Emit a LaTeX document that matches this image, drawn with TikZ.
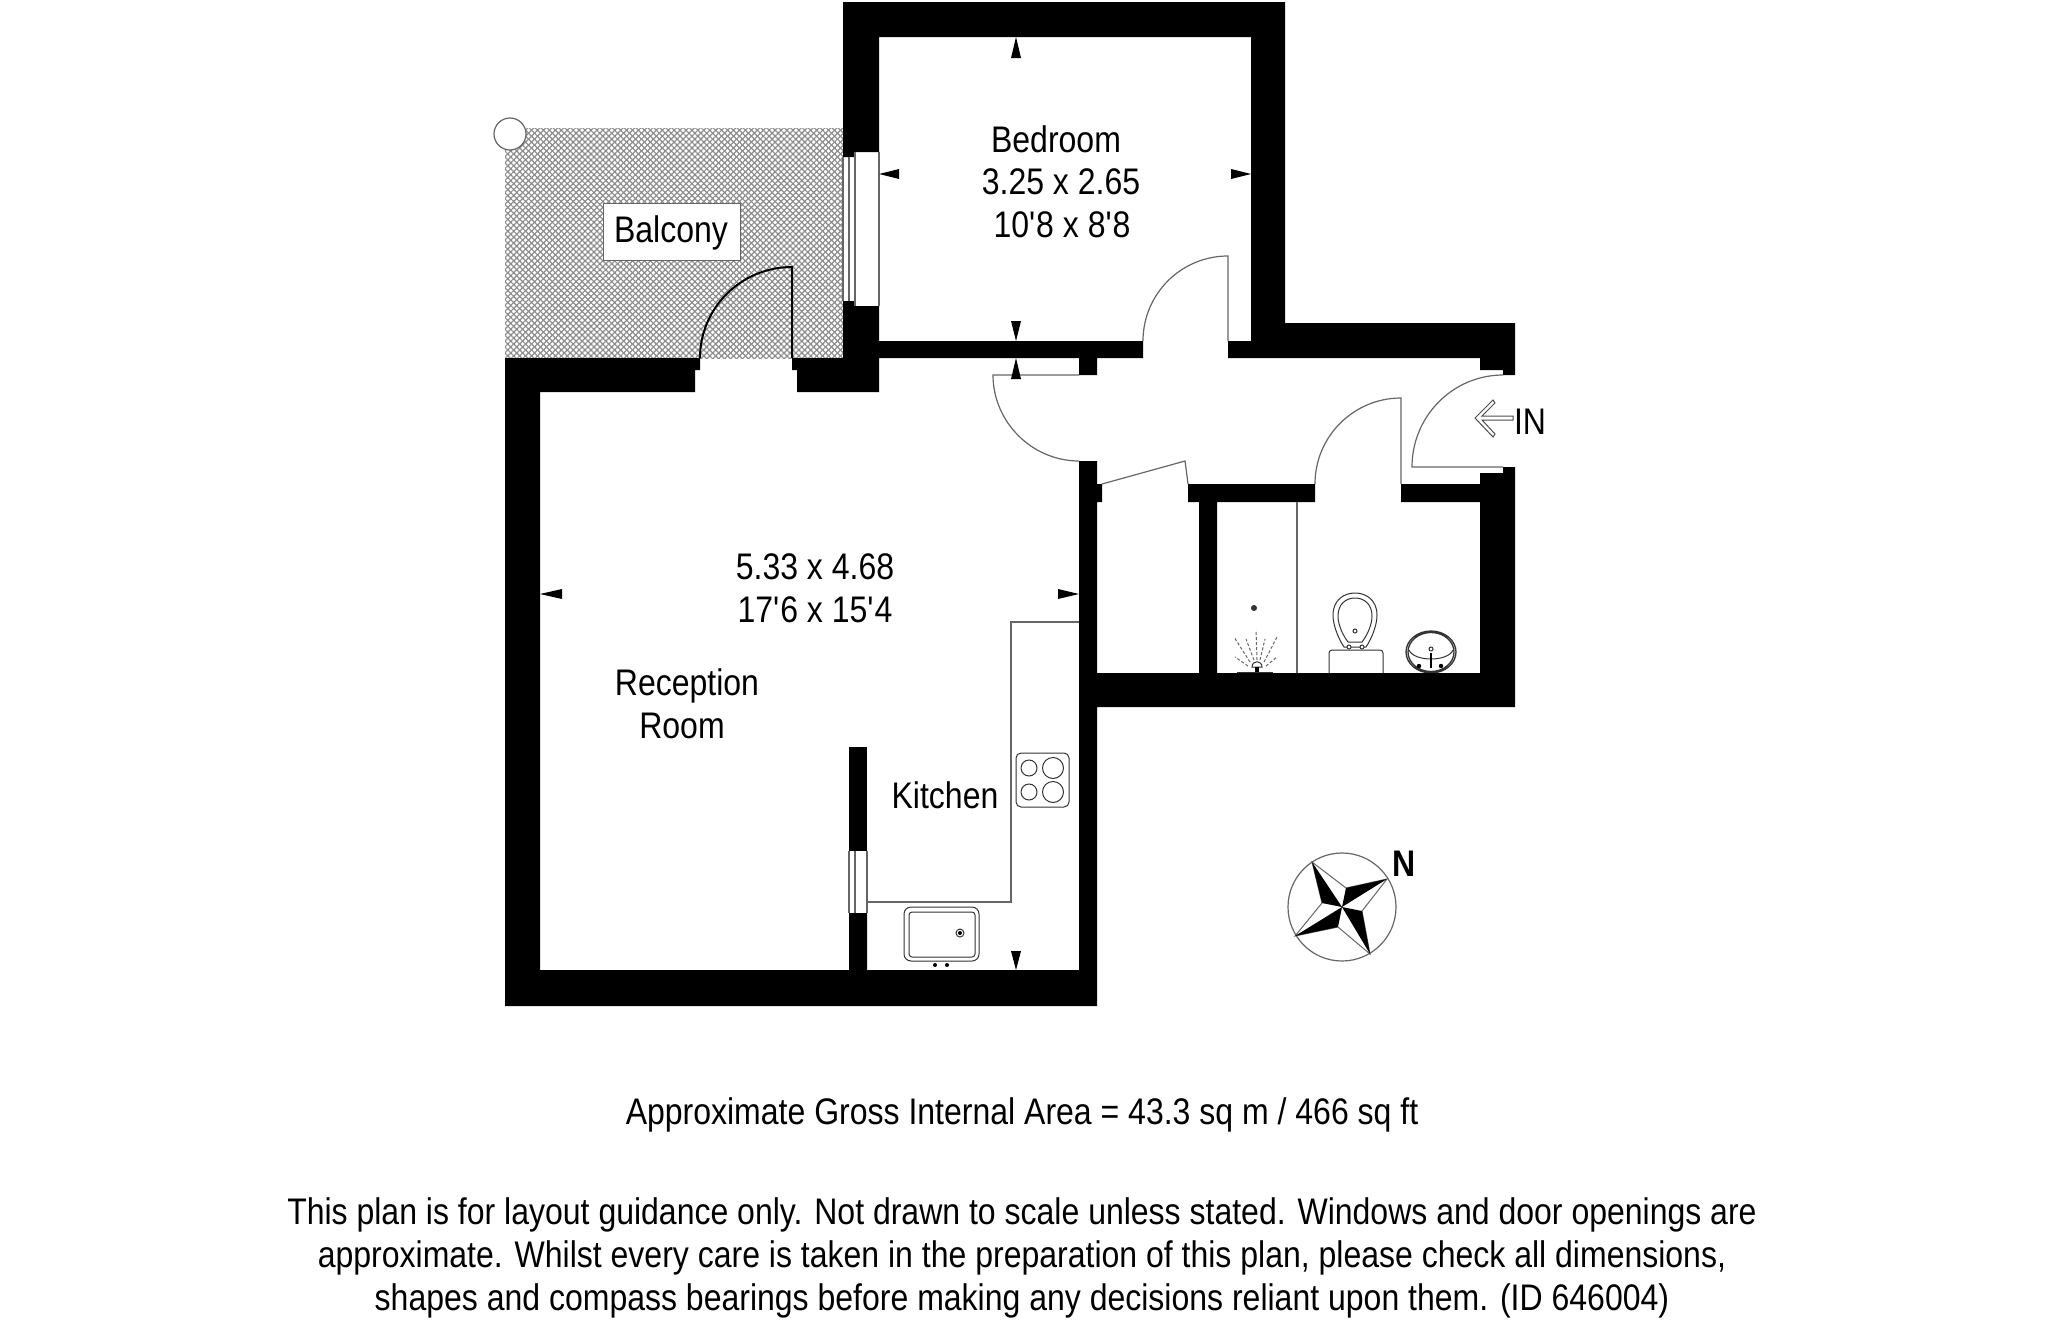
\documentclass[tikz,border=0pt]{standalone}
\usepackage{fontspec}
\setmainfont[FakeStretch=0.865]{Liberation Sans}
\usetikzlibrary{patterns.meta}
\tikzset{
	wall/.style={fill=black},
	thinline/.style={draw=black!60, line width=1.2pt},
	fixture/.style={draw=black!80, line width=1pt},
	dimtip/.style={fill=black},
	roomlabel/.style={font=\fontsize{37}{43}\selectfont, align=center, inner sep=0pt},
	notelabel/.style={font=\fontsize{37}{43}\selectfont, align=center, inner sep=0pt}
}
\begin{document}
\begin{tikzpicture}[x=1pt,y=1pt,yscale=-1,xscale=1]
\useasboundingbox (0,0) rectangle (2048,1333);

%balcony
\path [pattern={Lines[angle=45,distance=4.2pt,line width=1.2pt]},pattern color=black!45] (505,128) rectangle (843,358);
\path [pattern={Lines[angle=-45,distance=4.2pt,line width=1.2pt]},pattern color=black!45] (505,128) rectangle (843,358);
\draw [thinline,fill=white] (510,134) circle (16);
\draw [draw=black!60,fill=white] (603,203) rectangle (740,260);
\draw (671,233) node [roomlabel] (balconylabel) {Balcony};
\draw [line width=2pt] (792,358) -- (792,267) .. controls (741,267) and (700,308) .. (700,358);

%walls
\fill [wall] (505,358) -- (700,358) -- (700,370) -- (695,370) -- (695,392) -- (540,392) -- (540,970) -- (849,970) -- (849,913) -- (867,913) -- (867,970) -- (1079,970) -- (1079,461) -- (1097,461) -- (1097,484) -- (1102,484) -- (1102,502) -- (1097,502) -- (1097,673) -- (1199,673) -- (1199,502) -- (1188,502) -- (1188,484) -- (1315,484) -- (1315,502) -- (1217,502) -- (1217,673) -- (1480,673) -- (1480,502) -- (1401,502) -- (1401,484) -- (1480,484) -- (1480,473) -- (1503,473) -- (1503,467) -- (1515,467) -- (1515,707) -- (1097,707) -- (1097,1006) -- (505,1006) -- cycle;
\fill [wall] (843,2) -- (1285,2) -- (1285,323) -- (1515,323) -- (1515,375) -- (1503,375) -- (1503,370) -- (1480,370) -- (1480,358) -- (1228,358) -- (1228,341) -- (1251,341) -- (1251,37) -- (879,37) -- (879,152) -- (855,152) -- (855,157) -- (843,157) -- cycle;
\fill [wall] (843,301) -- (855,301) -- (855,306) -- (879,306) -- (879,341) -- (1143,341) -- (1143,358) -- (1097,358) -- (1097,375) -- (1079,375) -- (1079,358) -- (879,358) -- (879,392) -- (797,392) -- (797,370) -- (792,370) -- (792,358) -- (843,358) -- cycle;
\fill [wall] (849,747) rectangle (867,851);

%windows
\draw [thinline] (843,157) -- (843,301) (849,157) -- (849,301) (855,152) -- (855,306) (879,152) -- (879,306);
\draw [thinline] (849,851) -- (849,913) (855,851) -- (855,913) (867,851) -- (867,913);

%doors
\draw [thinline] (1228,341) -- (1228,256) .. controls (1181,256) and (1143,294) .. (1143,341);
\draw [thinline] (1079,375) -- (993,375) .. controls (993,422) and (1032,461) .. (1079,461);
\draw [thinline] (1102,484) -- (1185,461) .. controls (1186,468) and (1187,476) .. (1188,484);
\draw [thinline] (1401,484) -- (1401,398) .. controls (1354,398) and (1315,436) .. (1315,484);
\draw [thinline] (1503,467) -- (1412,467) .. controls (1412,416) and (1453,375) .. (1503,375);

%kitchen
\draw [thinline] (1079,622) -- (1011,622) -- (1011,902) -- (867,902);
\draw [fixture,rounded corners=5pt] (1016,753) rectangle (1069,807);
\draw [fixture] (1029,768) circle (8) (1053,768) circle (10.5) (1029,792) circle (8) (1053,792) circle (10.5);
\draw [fixture,rounded corners=7pt] (904,907) rectangle (979,961);
\draw [fixture,rounded corners=3pt] (909,912) rectangle (975,957);
\draw [fixture] (960,933) circle (4);
\fill (960,933) circle (2) (935,965) circle (2) (947,965) circle (2);

%shower
\draw [thinline] (1297,502) -- (1297,673);
\fill [black!80] (1254,608) circle (3);
\draw [black!60,densely dashed,line width=1pt] (1257,660) -- (1256,630) (1254,660) -- (1246,639) (1260,660) -- (1265,639) (1250,662) -- (1234,637) (1264,662) -- (1277,637) (1248,666) -- (1235,657) (1266,666) -- (1277,657);
\draw [fixture] (1252,667) .. controls (1252,660) and (1262,660) .. (1262,667) -- cycle;
\fill (1255,667) rectangle (1259,673);
\draw [fixture] (1237,672) -- (1273,672);

%toilet and basin
\draw [fixture,rounded corners=3pt] (1329,673) -- (1329,650) -- (1383,650) -- (1383,673);
\draw [fixture] (1344,647) .. controls (1338,638) and (1333,625) .. (1333,615) .. controls (1333,600) and (1344,593) .. (1355,593) .. controls (1366,593) and (1377,600) .. (1377,615) .. controls (1377,625) and (1372,638) .. (1366,647) -- cycle;
\draw [fixture] (1348,642) .. controls (1342,634) and (1338,624) .. (1338,616) .. controls (1338,604) and (1346,598) .. (1355,598) .. controls (1364,598) and (1372,604) .. (1372,616) .. controls (1372,624) and (1368,634) .. (1362,642) -- cycle;
\draw [fixture,fill=white] (1349,647) circle (2) (1362,647) circle (2) (1355,631) circle (2);
\begin{scope}
\clip (1395,620) rectangle (1470,672);
\draw [fixture,line width=1.3pt] (1431,652) ellipse (25 and 21) (1431,652) ellipse (23 and 19.5);
\end{scope}
\draw [fixture] (1409,650) .. controls (1414,662) and (1448,662) .. (1453,650);
\draw [fixture,fill=white] (1431,649) circle (2);
\draw [black,line width=2pt] (1431,653) -- (1431,668);
\fill (1419,666) circle (2.2) (1441,666) circle (2.2);

%dimension marks
\fill [dimtip] (1016,37) -- (1011,58) -- (1021,58) -- cycle;
\fill [dimtip] (1016,341) -- (1011,321) -- (1021,321) -- cycle;
\fill [dimtip] (1016,358) -- (1011,379) -- (1021,379) -- cycle;
\fill [dimtip] (879,174) -- (899,169) -- (899,179) -- cycle;
\fill [dimtip] (1251,174) -- (1231,169) -- (1231,179) -- cycle;
\fill [dimtip] (540,594) -- (562,589) -- (562,599) -- cycle;
\fill [dimtip] (1079,594) -- (1058,589) -- (1058,599) -- cycle;
\fill [dimtip] (1016,970) -- (1011,951) -- (1021,951) -- cycle;

%entrance arrow
\draw [black!70,line width=1pt,fill=white] (1513,416) -- (1482,416) -- (1495,403) -- (1493,400) -- (1475,418) -- (1493,437) -- (1495,434) -- (1482,420) -- (1513,420) -- cycle;

%compass
\draw [thinline] (1342,907) circle (54);
\draw [thinline,line width=1pt] (1312,862) -- (1346,888) -- (1387,879) -- (1362,911) -- (1370,954) -- (1338,927) -- (1295,936) -- (1322,903) -- cycle;
\fill (1312,862) -- (1342,907) -- (1322,903) -- cycle;
\fill (1387,879) -- (1346,888) -- (1342,907) -- cycle;
\fill (1370,954) -- (1342,907) -- (1362,911) -- cycle;
\fill (1295,936) -- (1338,927) -- (1342,907) -- cycle;

%labels
\draw (1056,139) node [roomlabel] (bedroomlabel) {Bedroom};
\draw (1061,182) node [roomlabel] (bedroomsize) {3.25 x 2.65};
\draw (1062,225) node [roomlabel] (bedroomfeet) {10\textquotesingle 8 x 8\textquotesingle 8};
\draw (815,588) node [roomlabel] (receptionsize) {5.33 x 4.68\\ 17\textquotesingle 6 x 15\textquotesingle 4};
\draw (687,686) node [roomlabel] (receptionlabel) {Reception};
\draw (682,726) node [roomlabel] (roomlabel) {Room};
\draw (945,795) node [roomlabel] (kitchenlabel) {Kitchen};
\draw (1530,422) node [roomlabel] (inlabel) {IN};
\draw (1404,864) node [roomlabel,font=\fontsize{37}{43}\selectfont\bfseries] (northlabel) {N};
\draw (1022,1115) node [notelabel] (arealabel) {Approximate Gross Internal Area = 43.3 sq m / 466 sq ft};
\draw (1022,1258) node [notelabel] (disclaimer) {This plan is for layout guidance only. Not drawn to scale unless stated. Windows and door openings are\\ approximate. Whilst every care is taken in the preparation of this plan, please check all dimensions,\\ shapes and compass bearings before making any decisions reliant upon them. (ID 646004)};
\end{tikzpicture}
\end{document}
